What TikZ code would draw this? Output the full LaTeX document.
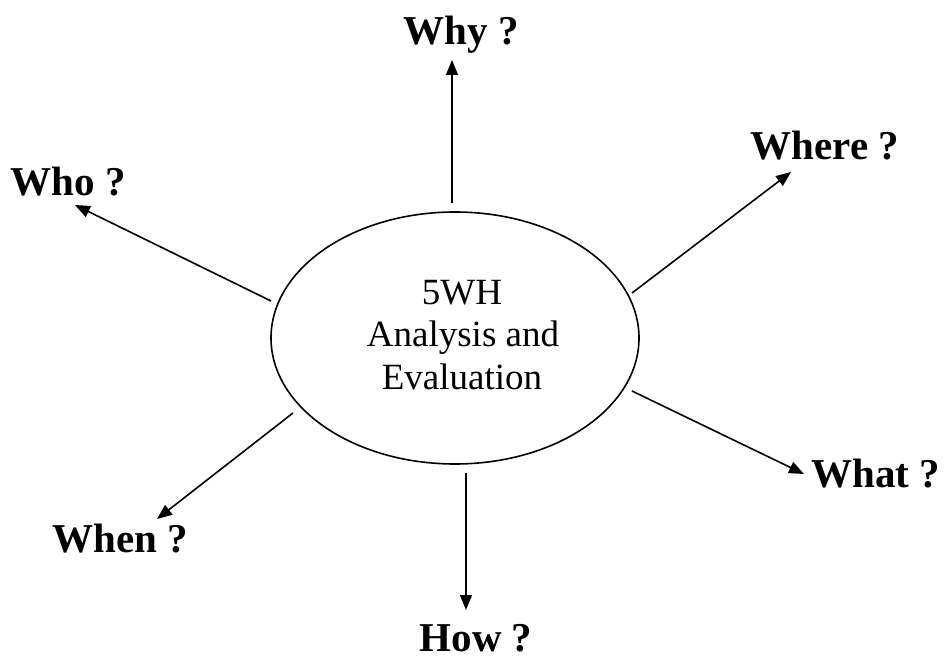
\documentclass[tikz,border=0pt]{standalone}
\usepackage{fontspec}
\setmainfont{Liberation Serif}
\usetikzlibrary{arrows.meta,shapes.geometric}
\begin{document}
\begin{tikzpicture}[x=1pt,y=-1pt,
  lbl/.style={font=\fontsize{41}{44}\selectfont\bfseries, anchor=base, inner sep=0pt},
  ctxt/.style={anchor=base, inner sep=0pt, font=\fontsize{37}{42.5}\selectfont},
  arr/.style={line width=1.6pt, -{Triangle[length=15pt,width=12pt]}}]
\useasboundingbox (0,0) rectangle (946,660);
\node[draw, line width=1.6pt, ellipse, minimum width=368pt, minimum height=252pt, inner sep=0pt] (c) at (455,338) {};
\node[ctxt] (ct1) at (462,305) {5WH};
\node[ctxt] (ct2) at (463,347) {Analysis and};
\node[ctxt] (ct3) at (462,390) {Evaluation};
\node[lbl] (why) at (461,45) {Why ?};
\node[lbl] (where) at (825,160) {Where ?};
\node[lbl] (who) at (68,196) {Who ?};
\node[lbl] (what) at (876,488) {What ?};
\node[lbl] (when) at (120,552) {When ?};
\node[lbl] (how) at (476,651) {How ?};
\coordinate (s1) at (452,203); \coordinate (t1) at (452,60);
\coordinate (s2) at (632,293); \coordinate (t2) at (791,172);
\coordinate (s3) at (271,301); \coordinate (t3) at (75,205);
\coordinate (s4) at (632,391); \coordinate (t4) at (804,474);
\coordinate (s5) at (293,413); \coordinate (t5) at (157,519);
\coordinate (s6) at (466,473); \coordinate (t6) at (466,610);
\draw[arr] (s1) -- (t1);
\draw[arr] (s2) -- (t2);
\draw[arr] (s3) -- (t3);
\draw[arr] (s4) -- (t4);
\draw[arr] (s5) -- (t5);
\draw[arr] (s6) -- (t6);
\end{tikzpicture}
\end{document}
